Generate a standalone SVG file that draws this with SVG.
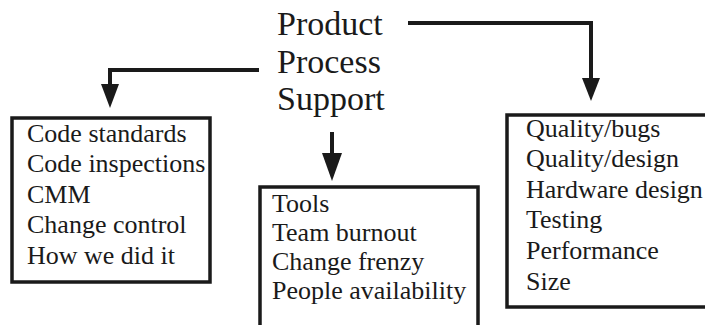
<svg xmlns="http://www.w3.org/2000/svg" width="705" height="325" viewBox="0 0 705 325">
  <style>
    .title { font-family: "Liberation Serif", "Times New Roman", serif; font-size: 34px; fill: #1a1a1a; }
    .item { font-family: "Liberation Serif", "Times New Roman", serif; font-size: 26px; fill: #1a1a1a; }
    .box { fill: #ffffff; stroke: #1a1a1a; stroke-width: 3.5; }
    .wire { fill: none; stroke: #1a1a1a; stroke-width: 4; stroke-linejoin: miter; }
    .head { fill: #1a1a1a; stroke: none; }
  </style>
  <rect width="705" height="325" fill="#ffffff"/>

  <!-- central list of categories -->
  <g id="categories">
    <text class="title" x="277" y="35">Product</text>
    <text class="title" x="277" y="73">Process</text>
    <text class="title" x="277" y="110">Support</text>
  </g>

  <!-- connectors from the categories to their boxes -->
  <g id="connectors">
    <polyline class="wire" points="259,70 110,70 110,86"/>
    <polygon class="head" points="101,84 119,84 110,108"/>
    <polyline class="wire" points="408,23 591,23 591,80"/>
    <polygon class="head" points="582,78 600,78 591,101"/>
    <line class="wire" x1="332" y1="132" x2="332" y2="156"/>
    <polygon class="head" points="322,153 342,153 332,181"/>
  </g>

  <!-- Process box -->
  <g id="process-box">
    <rect class="box" x="12" y="118" width="198" height="164"/>
    <text class="item" x="27" y="142">Code standards</text>
    <text class="item" x="27" y="172">Code inspections</text>
    <text class="item" x="27" y="203">CMM</text>
    <text class="item" x="27" y="233">Change control</text>
    <text class="item" x="27" y="264">How we did it</text>
  </g>

  <!-- Support box -->
  <g id="support-box">
    <rect class="box" x="260" y="187" width="218" height="150"/>
    <text class="item" x="272" y="212">Tools</text>
    <text class="item" x="272" y="241">Team burnout</text>
    <text class="item" x="272" y="270">Change frenzy</text>
    <text class="item" x="272" y="299">People availability</text>
  </g>

  <!-- Product box -->
  <g id="product-box">
    <rect class="box" x="507" y="115" width="210" height="192"/>
    <text class="item" x="526" y="137">Quality/bugs</text>
    <text class="item" x="526" y="167">Quality/design</text>
    <text class="item" x="526" y="198">Hardware design</text>
    <text class="item" x="526" y="228">Testing</text>
    <text class="item" x="526" y="259">Performance</text>
    <text class="item" x="526" y="290">Size</text>
  </g>
</svg>
